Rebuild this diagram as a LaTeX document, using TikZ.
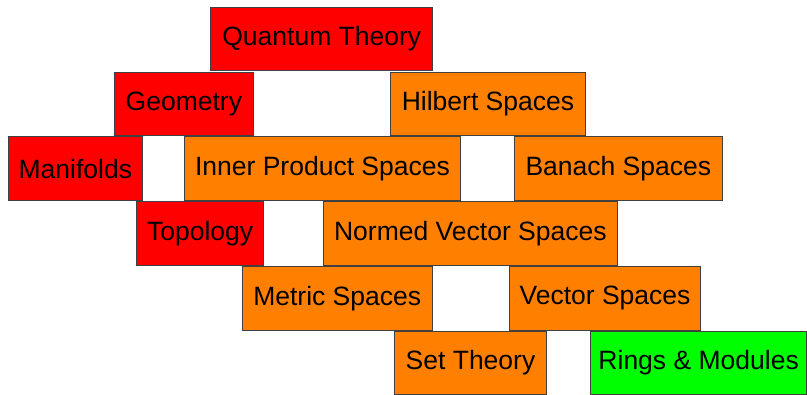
\documentclass[tikz,border=0pt]{standalone}
\usepackage{fontspec}
\setmainfont{Liberation Sans}

\definecolor{theoryred}{RGB}{255,0,0}
\definecolor{spaceorange}{RGB}{255,128,0}
\definecolor{algebragreen}{RGB}{0,255,0}

\begin{document}
\begin{tikzpicture}[x=1pt, y=-1pt, line join=miter,
  brick/.style={draw=black!75, line width=1pt, anchor=north west, inner sep=0pt,
    minimum height=\brickH pt, font=\fontsize{26.5}{30}\selectfont}]

  % parameters
  \def\brickH{63.6} % height of one brick
  \def\pitch{64.8}  % distance between two rows of bricks
  \def\top{6.8}     % top edge of the first row

  % top edge of every row
  \pgfmathsetmacro{\rowA}{\top}
  \pgfmathsetmacro{\rowB}{\top + \pitch}
  \pgfmathsetmacro{\rowC}{\top + 2*\pitch}
  \pgfmathsetmacro{\rowD}{\top + 3*\pitch}
  \pgfmathsetmacro{\rowE}{\top + 4*\pitch}
  \pgfmathsetmacro{\rowF}{\top + 5*\pitch}

  \useasboundingbox (0,0) rectangle (807,395);

  % row 1
  \node[brick, fill=theoryred, minimum width=222pt] (quantum) at (210.3,\rowA) {Quantum Theory};

  % row 2
  \node[brick, fill=theoryred, minimum width=138.7pt] (geometry) at (114,\rowB) {Geometry};
  \node[brick, fill=spaceorange, minimum width=195pt] (hilbert) at (390,\rowB) {Hilbert Spaces};

  % row 3
  \node[brick, fill=theoryred, minimum width=134.3pt] (manifolds) at (7.7,\rowC) {Manifolds};
  \node[brick, fill=spaceorange, minimum width=276.6pt] (inner) at (183.7,\rowC) {Inner Product Spaces};
  \node[brick, fill=spaceorange, minimum width=207.7pt] (banach) at (514,\rowC) {Banach Spaces};

  % row 4
  \node[brick, fill=theoryred, minimum width=127.3pt] (topology) at (136,\rowD) {Topology};
  \node[brick, fill=spaceorange, minimum width=294.3pt] (normed) at (322.7,\rowD) {Normed Vector Spaces};

  % row 5
  \node[brick, fill=spaceorange, minimum width=190pt] (metric) at (241.7,\rowE) {Metric Spaces};
  \node[brick, fill=spaceorange, minimum width=191.6pt] (vector) at (508.7,\rowE) {Vector Spaces};

  % row 6
  \node[brick, fill=spaceorange, minimum width=152pt] (settheory) at (394,\rowF) {Set Theory};
  \node[brick, fill=algebragreen, minimum width=216.3pt] (rings) at (590,\rowF) {Rings \& Modules};

\end{tikzpicture}
\end{document}
